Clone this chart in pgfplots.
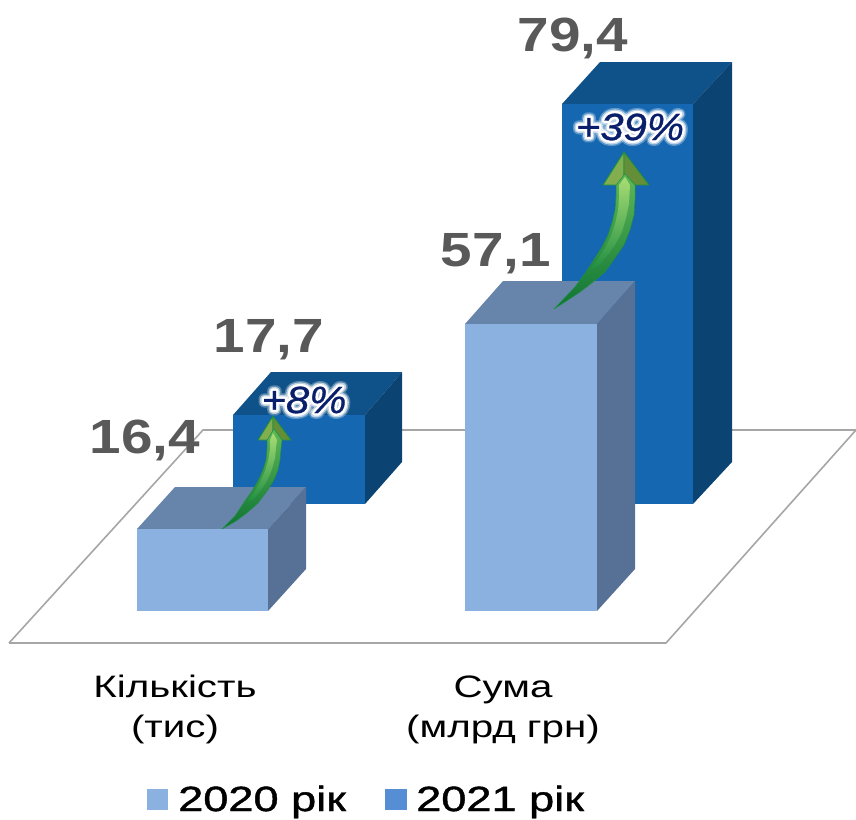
\documentclass[border=0pt]{standalone}
\usepackage{fontspec}
\usepackage{pgfplots}
\pgfplotsset{compat=1.18}
\setmainfont{Liberation Sans}
\newfontfamily\valfont[FakeStretch=1.18]{Liberation Sans}
\newfontfamily\lblfont[FakeStretch=1.3]{Liberation Sans}
\newfontfamily\legfont[FakeStretch=1.29,FakeBold=1.2]{Liberation Sans}
\newfontfamily\pctfont[FakeStretch=1.1,FakeBold=.8]{Liberation Sans}
\newfontfamily\glowa[FakeStretch=1.1,FakeBold=14]{Liberation Sans}
\newfontfamily\glowb[FakeStretch=1.1,FakeBold=22]{Liberation Sans}
\newfontfamily\glowc[FakeStretch=1.1,FakeBold=30]{Liberation Sans}

\definecolor{lfront}{HTML}{8AB1DF}
\definecolor{ltop}{HTML}{6784AA}
\definecolor{lside}{HTML}{577196}
\definecolor{dfront}{HTML}{1467B0}
\definecolor{dtop}{HTML}{0F5289}
\definecolor{dside}{HTML}{0B4372}
\definecolor{legdark}{HTML}{558ED5}
\definecolor{valgray}{HTML}{595959}
\definecolor{floorline}{HTML}{A6A6A6}
\definecolor{navy}{HTML}{0A1F6B}
\definecolor{arrowrim}{HTML}{1E8F42}
\definecolor{arrowmid}{HTML}{5FB858}
\definecolor{arrowlight}{HTML}{A8DC74}
\definecolor{arrowdark}{HTML}{0E7434}
\definecolor{headl}{HTML}{82AE4F}
\definecolor{headd}{HTML}{648F38}

\newcommand{\pct}[2]{%
  \begin{scope}[line join=round]
  \node[text=white,opacity=.3] at (axis cs:#1) {\pgfsetroundjoin\glowc\itshape\fontsize{38}{38}\selectfont #2};
  \node[text=white,opacity=.6] at (axis cs:#1) {\pgfsetroundjoin\glowb\itshape\fontsize{38}{38}\selectfont #2};
  \node[text=white] at (axis cs:#1) {\pgfsetroundjoin\glowa\itshape\fontsize{38}{38}\selectfont #2};
  \node[text=navy] at (axis cs:#1) {\pctfont\itshape\fontsize{38}{38}\selectfont #2};
  \end{scope}
}

\begin{document}
\begin{tikzpicture}
\begin{axis}[
  scale only axis, width=856pt, height=819pt,
  xmin=0, xmax=856, ymin=0, ymax=819, y dir=reverse,
  hide axis, clip=false,
  every axis plot/.append style={no markers, draw=none, line join=round},
]
\coordinate (bbA) at (axis cs:0,0);
\coordinate (bbB) at (axis cs:856,819);
% floor
\addplot[draw=floorline, line width=1.6pt] coordinates {(9,643) (203,430) (856,430)};
\addplot[draw=floorline, line width=1.6pt] coordinates {(856,430) (666,643) (9,643)};

% 2021, kilkist
\addplot[fill=dtop] coordinates {(233,415) (271,372) (402,372) (365,415)} --cycle;
\addplot[fill=dside] coordinates {(365,415) (402,372) (402,462) (365,504)} --cycle;
\addplot[fill=dfront] coordinates {(233,415) (365,415) (365,504) (233,504)} --cycle;
% 2020, kilkist
\addplot[fill=ltop] coordinates {(137,529) (175,487) (306,487) (268,529)} --cycle;
\addplot[fill=lside] coordinates {(268,529) (306,487) (306,569) (268,611)} --cycle;
\addplot[fill=lfront] coordinates {(137,529) (268,529) (268,611) (137,611)} --cycle;
% 2021, suma
\addplot[fill=dtop] coordinates {(562,104) (600,62) (732,62) (693,104)} --cycle;
\addplot[fill=dside] coordinates {(693,104) (732,62) (732,462) (693,504)} --cycle;
\addplot[fill=dfront] coordinates {(562,104) (693,104) (693,504) (562,504)} --cycle;
% 2020, suma
\addplot[fill=ltop] coordinates {(465,324) (503,281) (635,281) (597,324)} --cycle;
\addplot[fill=lside] coordinates {(597,324) (635,281) (635,569) (597,611)} --cycle;
\addplot[fill=lfront] coordinates {(465,324) (597,324) (597,611) (465,611)} --cycle;

% arrow +8%
\addplot[fill=headl, draw=arrowrim, line width=.9pt] coordinates {(273,416) (258,440) (273,440)} --cycle;
\addplot[fill=headd, draw=arrowrim, line width=.9pt] coordinates {(273,416) (291,440) (273,440)} --cycle;
\addplot[shade, top color=arrowmid, bottom color=arrowdark, draw=arrowrim, line width=.5pt] coordinates {
  (267,440) (274,429) (282,440) (281,449) (280,460) (278,470) (274,480) (267,491) (258,503) (248,512) (236,521) (222,529)
  (235,516) (245,501) (252,491) (258,481) (263,470) (266,460) (267,449)} --cycle;
\addplot[shade, top color=arrowlight, bottom color=arrowrim] coordinates {
  (270,440) (273,433) (277,440) (276,448) (275,458) (272,469) (268,479) (262,489) (254,499) (247,502)
  (254,492) (260,482) (265,471) (268,461) (270,449)} --cycle;
% arrow +39%
\addplot[fill=headl, draw=arrowrim, line width=.9pt] coordinates {(624,152) (603,185) (624,185)} --cycle;
\addplot[fill=headd, draw=arrowrim, line width=.9pt] coordinates {(624,152) (649,185) (624,185)} --cycle;
\addplot[shade, top color=arrowmid, bottom color=arrowdark, draw=arrowrim, line width=.5pt] coordinates {
  (616,185) (625,174) (635,185) (635,200) (634,215) (630,230) (624,245) (615,258) (605,272) (593,282) (580,292) (568,300) (554,309)
  (575,287) (586,272) (595,258) (602,247) (608,235) (612,223) (615,210) (616,197)} --cycle;
\addplot[shade, top color=arrowlight, bottom color=arrowrim] coordinates {
  (619,185) (625,177) (630,185) (629,204) (626,218) (622,232) (615,245) (607,256) (598,266) (590,270)
  (598,259) (605,248) (611,236) (615,224) (618,211) (619,197)} --cycle;

% legend swatches
\addplot[fill=lfront] coordinates {(147,789) (168,789) (168,810) (147,810)} --cycle;
\addplot[fill=legdark] coordinates {(385,789) (407,789) (407,810) (385,810)} --cycle;

% value labels
\node[anchor=base,text=valgray] at (axis cs:573,51) {\valfont\bfseries\fontsize{48}{48}\selectfont 79,4};
\node[anchor=base,text=valgray] at (axis cs:496,266) {\valfont\bfseries\fontsize{48}{48}\selectfont 57,1};
\node[anchor=base,text=valgray] at (axis cs:269,352) {\valfont\bfseries\fontsize{48}{48}\selectfont 17,7};
\node[anchor=base,text=valgray] at (axis cs:145,453) {\valfont\bfseries\fontsize{48}{48}\selectfont 16,4};

\pct{304,400}{+8\%}
\pct{630,127}{+39\%}

% category labels
\node[anchor=base] at (axis cs:175,697) {\lblfont\fontsize{31}{31}\selectfont Кількість};
\node[anchor=base] at (axis cs:175,737) {\lblfont\fontsize{31}{31}\selectfont (тис)};
\node[anchor=base] at (axis cs:503,697) {\lblfont\fontsize{31}{31}\selectfont Сума};
\node[anchor=base] at (axis cs:503,737) {\lblfont\fontsize{31}{31}\selectfont (млрд грн)};

% legend text
\node[anchor=base west,inner sep=0pt] at (axis cs:178,811) {\legfont\fontsize{35}{35}\selectfont 2020 рік};
\node[anchor=base west,inner sep=0pt] at (axis cs:416,811) {\legfont\fontsize{35}{35}\selectfont 2021 рік};
\end{axis}
\pgfresetboundingbox
\path[use as bounding box] (bbA) rectangle (bbB);
\end{tikzpicture}
\end{document}
